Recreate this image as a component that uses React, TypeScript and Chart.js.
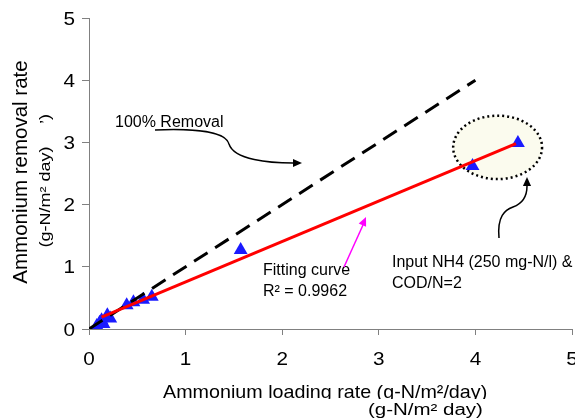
import React, { useEffect, useRef } from "react";
import { Chart, registerables } from "chart.js";

Chart.register(...registerables);

const loadingRate = [0.08, 0.11, 0.13, 0.15, 0.19, 0.22, 0.39, 0.46, 0.56, 0.65, 1.57, 3.97, 4.44];
const removalRate = [0.05, 0.1, 0.14, 0.08, 0.22, 0.17, 0.38, 0.43, 0.47, 0.52, 1.27, 2.62, 2.99];
const removal100X = [0, 4];
const removal100Y = [0, 4];
const fitX = [0.13, 4.42];
const fitY = [0.19, 2.98];
const xTicks = [0, 1, 2, 3, 4, 5];
const yTicks = [0, 1, 2, 3, 4, 5];

const FONT = "'Liberation Sans', Arial, sans-serif";

function txt(
  ctx: CanvasRenderingContext2D,
  s: string,
  x: number,
  y: number,
  size: number,
  sx = 1,
  align: CanvasTextAlign = "left",
  rot = 0
) {
  ctx.save();
  ctx.translate(x, y);
  if (rot) ctx.rotate(rot);
  ctx.scale(sx, 1);
  ctx.font = `${size}px ${FONT}`;
  ctx.textAlign = align;
  ctx.textBaseline = "alphabetic";
  ctx.fillStyle = "#000";
  ctx.fillText(s, 0, 0);
  ctx.restore();
}

function arrowHead(ctx: CanvasRenderingContext2D, x: number, y: number, angle: number, size: number, color: string) {
  ctx.save();
  ctx.fillStyle = color;
  ctx.translate(x, y);
  ctx.rotate(angle);
  ctx.beginPath();
  ctx.moveTo(0, 0);
  ctx.lineTo(-size, -size * 0.45);
  ctx.lineTo(-size, size * 0.45);
  ctx.closePath();
  ctx.fill();
  ctx.restore();
}

const annotations = {
  id: "annotations",
  beforeDatasetsDraw(chart: any) {
    const { ctx, scales } = chart;
    const xs = scales.x, ys = scales.y;
    const cx = xs.getPixelForValue(4.23), cy = ys.getPixelForValue(2.92);
    const rx = xs.getPixelForValue(4.23 + 0.46) - cx;
    const ry = cy - ys.getPixelForValue(2.92 + 0.51);
    ctx.save();
    ctx.beginPath();
    ctx.ellipse(cx, cy, rx, ry, 0, 0, Math.PI * 2);
    ctx.fillStyle = "#fbfbee";
    ctx.fill();
    ctx.setLineDash([2, 3]);
    ctx.lineWidth = 2.5;
    ctx.strokeStyle = "#000";
    ctx.stroke();
    ctx.restore();
  },
  afterDraw(chart: any) {
    const { ctx, scales } = chart;
    const xs = scales.x, ys = scales.y;
    ctx.save();

    // tick labels
    yTicks.forEach((v) => txt(ctx, String(v), 75, ys.getPixelForValue(v) + 6.5, 18, 1.15, "right"));
    xTicks.forEach((v) => txt(ctx, String(v), xs.getPixelForValue(v), 365, 18, 1.15, "center"));

    txt(ctx, "100% Removal", 115, 127, 16);
    txt(ctx, "Fitting curve", 263, 275, 16);
    txt(ctx, "R² = 0.9962", 263, 296, 16);
    txt(ctx, "Input NH4 (250 mg-N/l) &", 392, 267, 16);
    txt(ctx, "COD/N=2", 392, 288, 16);

    // 100% removal arrow
    ctx.strokeStyle = "#000";
    ctx.lineWidth = 1.5;
    ctx.beginPath();
    ctx.moveTo(155, 130);
    ctx.bezierCurveTo(200, 128, 226, 133, 229, 144);
    ctx.bezierCurveTo(234, 160, 270, 163, 293, 163);
    ctx.stroke();
    arrowHead(ctx, 302, 163, 0, 9, "#000");

    // input arrow
    ctx.beginPath();
    ctx.moveTo(499, 238);
    ctx.bezierCurveTo(497, 216, 505, 210, 513, 207);
    ctx.bezierCurveTo(524, 203, 527, 195, 527, 186);
    ctx.stroke();
    arrowHead(ctx, 527, 177, -Math.PI / 2, 9, "#000");

    // magenta arrow
    ctx.strokeStyle = "#ff00ff";
    ctx.beginPath();
    ctx.moveTo(344, 267);
    ctx.lineTo(363, 225);
    ctx.stroke();
    arrowHead(ctx, 366, 217, Math.atan2(217 - 267, 366 - 344), 9, "#ff00ff");

    // Y axis titles
    txt(ctx, "Ammonium removal rate", 27, 172, 20.5, 1, "center", -Math.PI / 2);
    txt(ctx, "(g-N/m² day)", 50, 197, 15, 1.2, "center", -Math.PI / 2);
    txt(ctx, "’)", 50, 119, 15, 1.2, "center", -Math.PI / 2);

    // X axis titles
    txt(ctx, "Ammonium loading rate (g-N/m²/day)", 163, 398, 18.6, 1.06);
    ctx.fillStyle = "#fff";
    ctx.fillRect(150, 399, 425, 21);
    txt(ctx, "(g-N/m² day)", 368, 415, 16, 1.28);
    ctx.restore();
  },
};

export default function App() {
  const ref = useRef<HTMLCanvasElement>(null);
  useEffect(() => {
    const chart = new Chart(ref.current!, {
      type: "scatter",
      data: {
        datasets: [
          {
            label: "Fitting curve",
            data: fitX.map((x, i) => ({ x, y: fitY[i] })),
            showLine: true,
            borderColor: "#ff0000",
            borderWidth: 3,
            pointRadius: 0,
          },
          {
            label: "100% Removal",
            data: removal100X.map((x, i) => ({ x, y: removal100Y[i] })),
            showLine: true,
            borderColor: "#000",
            borderWidth: 3,
            borderDash: [16, 9],
            pointRadius: 0,
          },
          {
            label: "Data",
            data: loadingRate.map((x, i) => ({ x, y: removalRate[i] })),
            pointStyle: "triangle",
            pointRadius: 8,
            backgroundColor: "#1a1aff",
            borderColor: "#1a1aff",
            borderWidth: 0,
          },
        ],
      },
      options: {
        animation: false,
        responsive: false,
        layout: { autoPadding: false, padding: { top: 18, right: 3, left: 0, bottom: 0 } },
        plugins: { legend: { display: false }, tooltip: { enabled: false } },
        scales: {
          x: {
            type: "linear",
            min: 0,
            max: 5,
            afterBuildTicks: (s: any) => { s.ticks = xTicks.map((v) => ({ value: v })); },
            afterFit: (s: any) => { s.height = 91; s.paddingLeft = 0; s.paddingRight = 0; },
            grid: { drawOnChartArea: false, tickLength: 6, color: "#808080" },
            border: { color: "#808080", width: 1 },
            ticks: { display: false },
          },
          y: {
            type: "linear",
            min: 0,
            max: 5,
            afterBuildTicks: (s: any) => { s.ticks = yTicks.map((v) => ({ value: v })); },
            afterFit: (s: any) => { s.width = 89; s.paddingTop = 0; s.paddingBottom = 0; },
            grid: { drawOnChartArea: false, tickLength: 7, color: "#808080" },
            border: { color: "#808080", width: 1 },
            ticks: { display: false },
          },
        },
      },
      plugins: [annotations],
    } as any);
    return () => chart.destroy();
  }, []);
  return (
    <div style={{ position: "fixed", left: 0, top: 0, width: 575, height: 420, background: "#fff" }}>
      <canvas ref={ref} width={575} height={420} />
    </div>
  );
}
